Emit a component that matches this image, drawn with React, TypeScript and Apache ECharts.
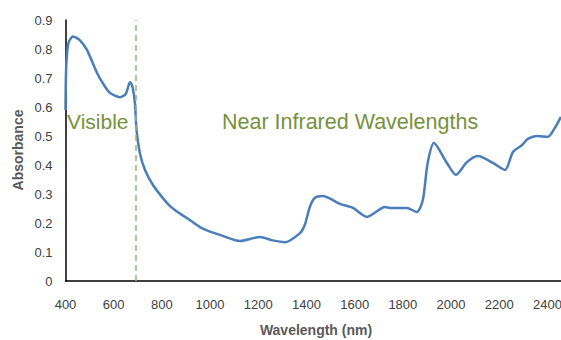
import React, { useEffect, useRef } from "react";
import * as echarts from "echarts";

const wavelengths = [400, 403, 412, 431, 460, 489, 531, 560, 585, 626, 650, 668, 678, 688, 695, 709, 730, 763, 800, 834, 870, 904, 958, 1000, 1041, 1124, 1207, 1260, 1311, 1373, 1393, 1414, 1434, 1468, 1539, 1593, 1651, 1726, 1747, 1817, 1858, 1883, 1903, 1929, 1983, 2020, 2066, 2112, 2174, 2224, 2257, 2295, 2319, 2357, 2402, 2431, 2456];
const absorbance = [0.59, 0.74, 0.82, 0.843, 0.83, 0.797, 0.717, 0.675, 0.648, 0.634, 0.645, 0.686, 0.67, 0.614, 0.52, 0.44, 0.383, 0.331, 0.29, 0.258, 0.235, 0.217, 0.186, 0.17, 0.159, 0.138, 0.152, 0.14, 0.134, 0.165, 0.193, 0.255, 0.286, 0.293, 0.266, 0.252, 0.221, 0.255, 0.252, 0.252, 0.238, 0.279, 0.407, 0.476, 0.407, 0.366, 0.41, 0.431, 0.407, 0.383, 0.445, 0.469, 0.49, 0.5, 0.497, 0.528, 0.566];
const yTicks = ["0", "0.1", "0.2", "0.3", "0.4", "0.5", "0.6", "0.7", "0.8", "0.9"];
const boundary = 690;

export default function App() {
  const ref = useRef<HTMLDivElement>(null);
  useEffect(() => {
    const chart = echarts.init(ref.current!, null, { renderer: "svg" });
    const font = "Liberation Sans, Arial, sans-serif";
    chart.setOption({
      animation: false,
      grid: { left: 65.5, right: 28.5, top: 20, bottom: 59 },
      xAxis: {
        type: "value",
        min: 400,
        max: 2500,
        interval: 200,
        axisLine: { show: true, lineStyle: { color: "#000", width: 1.5 } },
        axisTick: { show: false },
        splitLine: { show: false },
        axisLabel: {
          color: "#404040",
          fontSize: 13,
          fontFamily: font,
          margin: 17,
          showMaxLabel: false,
          formatter: (v: number) => String(v),
        },
      },
      yAxis: {
        type: "value",
        min: 0,
        max: 0.9,
        interval: 0.1,
        axisLine: { show: true, lineStyle: { color: "#000", width: 1.5 } },
        axisTick: { show: false },
        splitLine: { show: false },
        axisLabel: {
          color: "#404040",
          fontSize: 13,
          fontFamily: font,
          margin: 13,
          formatter: (v: number) => yTicks[Math.round(v * 10)] ?? "",
        },
      },
      series: [
        {
          type: "line",
          data: wavelengths.map((w, i) => [w, absorbance[i]]),
          smooth: 0.25,
          showSymbol: false,
          lineStyle: { color: "#4A7EBB", width: 2.5 },
          markLine: {
            silent: true,
            symbol: "none",
            label: { show: false },
            lineStyle: { color: "#9BB07A", width: 1.5, type: [6, 4] },
            data: [{ xAxis: boundary }],
          },
        },
      ],
      graphic: [
        { type: "text", left: 67, top: 111, style: { text: "Visible", fontSize: 21, fontFamily: font, fill: "#76923C" } },
        { type: "text", left: 222, top: 111, style: { text: "Near Infrared Wavelengths", fontSize: 21.5, fontFamily: font, fill: "#76923C" } },
        {
          type: "text",
          x: 18,
          y: 150,
          rotation: Math.PI / 2,
          style: { text: "Absorbance", fontSize: 14, fontWeight: "bold", fontFamily: font, fill: "#595959", align: "center", verticalAlign: "middle" },
        },
        {
          type: "text",
          x: 316,
          y: 330,
          style: { text: "Wavelength (nm)", fontSize: 14, fontWeight: "bold", fontFamily: font, fill: "#595959", align: "center", verticalAlign: "middle" },
        },
      ],
    });
    return () => chart.dispose();
  }, []);
  return (
    <div style={{ position: "absolute", left: 0, top: 0, width: 561, height: 340, overflow: "hidden", background: "#fff" }}>
      <div ref={ref} style={{ width: 600, height: 340 }} />
    </div>
  );
}
